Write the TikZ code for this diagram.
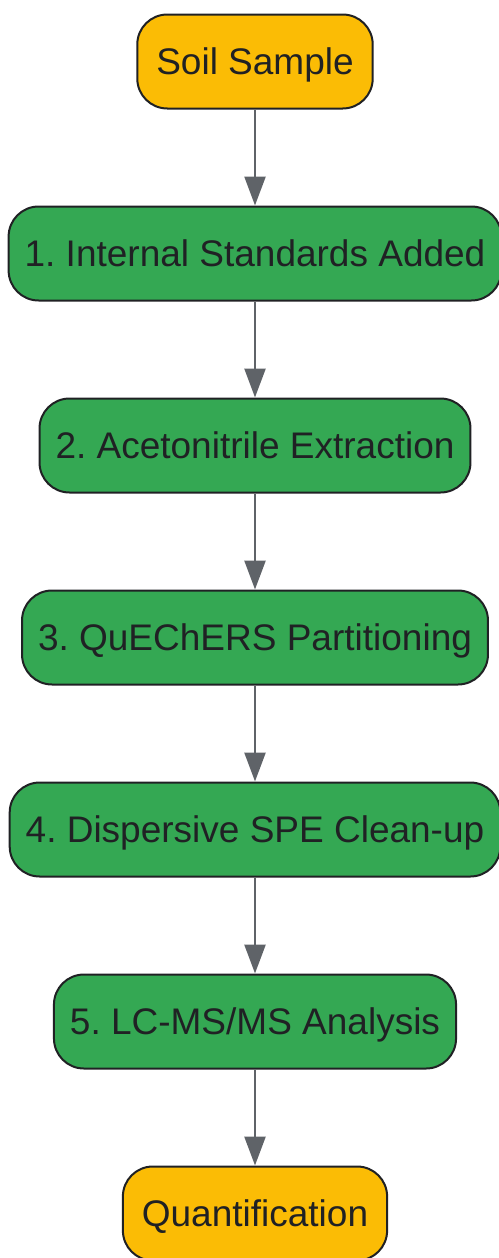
\documentclass[tikz,border=0pt]{standalone}
\usepackage{fontspec}
\setmainfont{Liberation Sans}
\usetikzlibrary{positioning,arrows.meta}

\definecolor{stepgreen}{HTML}{34A853}
\definecolor{endyellow}{HTML}{FBBC05}
\definecolor{inkdark}{HTML}{202124}
\definecolor{arrowgray}{HTML}{5F6368}

\tikzset{
  box/.style={draw=inkdark, line width=2pt, rounded corners=30pt,
    minimum height=94pt, inner xsep=16pt, text=inkdark,
    text height=34pt, text depth=7.5pt,
    font=\fontsize{37pt}{44pt}\selectfont},
  stage/.style={box, fill=stepgreen},
  terminal/.style={box, fill=endyellow, inner xsep=19pt},
  flow/.style={draw=arrowgray, line width=2.5pt,
    -{Triangle[width=21pt,length=29pt]}}
}

\begin{document}
\frenchspacing
\begin{tikzpicture}[node distance=96pt]
  \useasboundingbox (0,0) rectangle (498pt,-1258pt);

  % Define nodes
  \node[terminal] (soil) at (255pt,-61.5pt) {Soil Sample};
  \node[stage, below=of soil]      (istd)      {1. Internal Standards Added};
  \node[stage, below=of istd]      (extract)   {2. Acetonitrile Extraction};
  \node[stage, below=of extract]   (partition) {3. QuEChERS Partitioning};
  \node[stage, below=of partition] (cleanup)   {4. Dispersive SPE Clean-up};
  \node[stage, below=of cleanup]   (lcms)      {5. LC-MS/MS Analysis};
  \node[terminal, below=of lcms]   (quant)     {Quantification};

  % Connect the nodes
  \foreach \a/\b in {soil/istd, istd/extract, extract/partition,
                     partition/cleanup, cleanup/lcms, lcms/quant}
    \draw[flow] (\a) -- (\b);
\end{tikzpicture}
\end{document}
